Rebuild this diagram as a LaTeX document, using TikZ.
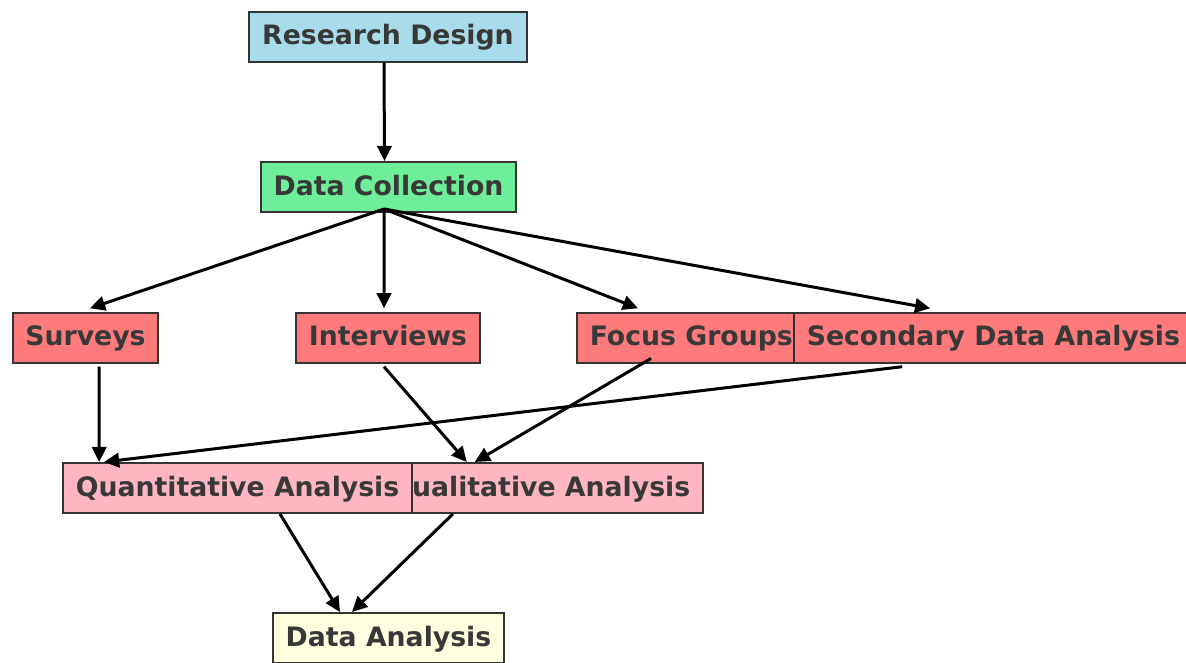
\documentclass[tikz,border=0pt]{standalone}
\usepackage{fontspec}
\setmainfont{DejaVu Sans}
\usetikzlibrary{arrows.meta}
\usetikzlibrary{positioning}

\definecolor{designblue}{HTML}{A9DCEB}
\definecolor{collectgreen}{HTML}{6EEE99}
\definecolor{methodred}{HTML}{FF7B7B}
\definecolor{analysispink}{HTML}{FFB6C1}
\definecolor{resultyellow}{HTML}{FFFFE0}
\definecolor{boxtext}{HTML}{383838}

\tikzset{
    stagebox/.style={draw=black!80, line width=0.05cm, minimum height=1.25cm,
        inner xsep=0.32cm, inner ysep=0pt, text height=0.55cm, text depth=0.15cm,
        text=boxtext, font=\fontsize{19}{22}\selectfont\bfseries},
    flow/.style={-{Triangle[length=0.38cm,width=0.36cm]}, line width=0.075cm, black}
}

\begin{document}
\begin{tikzpicture}
    \useasboundingbox (0, 0) rectangle (29.65, -16.575);

    % Design and collection
    \node[stagebox, fill=designblue] (rd) at (9.7, -0.925) {Research Design};
    \node[stagebox, fill=collectgreen] (dc) at (9.7125, -4.675) {Data Collection};

    % Collection methods
    \node[stagebox, fill=methodred] (sv) at (2.1375, -8.4375) {Surveys};
    \node[stagebox, fill=methodred] (iv) at (9.7, -8.4375) {Interviews};
    \node[stagebox, fill=methodred, anchor=west] (fg) at (14.4, -8.4375) {Focus Groups};
    \node[stagebox, fill=methodred, anchor=west] (sd) at (19.825, -8.4375) {Secondary Data Analysis};

    % Analysis branches
    \node[stagebox, fill=analysispink, anchor=east] (ql) at (17.6, -12.2) {Qualitative Analysis};
    \node[stagebox, fill=analysispink, anchor=west] (qn) at (1.55, -12.2) {Quantitative Analysis};

    % Result
    \node[stagebox, fill=resultyellow] (da) at (9.7125, -15.95) {Data Analysis};

    % Common start of the collection arrows
    \coordinate (hub) at ([xshift=-0.11cm, yshift=0.1cm]dc.south);

    % Arrows
    \draw[flow] ([xshift=-0.1cm]rd.south) -- ([xshift=-0.1cm]dc.north);
    \draw[flow] (hub) -- ([xshift=0.11cm, yshift=0.08cm]sv.north);
    \draw[flow] (hub) -- ([xshift=-0.1cm, yshift=0.08cm]iv.north);
    \draw[flow] (hub) -- ([xshift=1.55cm, yshift=0.08cm]fg.north west);
    \draw[flow] (hub) -- ([xshift=3.43cm, yshift=0.08cm]sd.north west);

    \draw[flow] ([xshift=0.34cm, yshift=-0.08cm]sv.south) -- ([xshift=0.93cm]qn.north west);
    \draw[flow] ([xshift=-0.1cm, yshift=-0.08cm]iv.south) -- ([xshift=-5.93cm]ql.north east);
    \draw[flow] ([xshift=1.875cm, yshift=0.125cm]fg.south west) -- ([xshift=-5.73cm]ql.north east);
    \draw[flow] ([xshift=2.73cm, yshift=-0.08cm]sd.south west) -- ([xshift=1.05cm]qn.north west);

    \draw[flow] ([xshift=5.45cm]qn.south west) -- ([xshift=1.7cm]da.north west);
    \draw[flow] ([xshift=-6.28cm]ql.south east) -- ([xshift=2cm]da.north west);
\end{tikzpicture}
\end{document}
